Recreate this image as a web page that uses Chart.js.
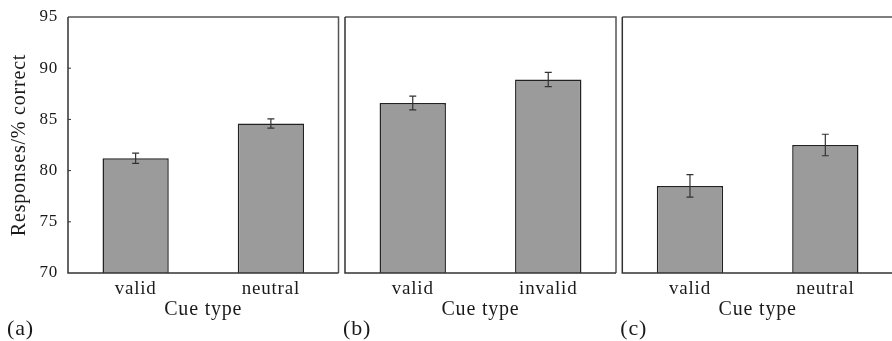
<!DOCTYPE html>
<html>
<head>
<meta charset="utf-8">
<script src="https://cdn.jsdelivr.net/npm/chart.js@4/dist/chart.umd.min.js"></script>
<style>
  html, body { margin: 0; padding: 0; background: #fff; overflow: hidden; }
  body { width: 892px; height: 341px; position: relative; }
  canvas { position: absolute; top: 0; }
</style>
</head>
<body>
<canvas id="panelA" width="340" height="341" style="left:0px"></canvas>
<canvas id="panelB" width="277" height="341" style="left:340px"></canvas>
<canvas id="panelC" width="282" height="341" style="left:617px"></canvas>
<script>
// data
const categoriesA = ['valid', 'neutral'];
const valuesA = [81.2, 84.6];
const errorsA = [0.5, 0.45];

const categoriesB = ['valid', 'invalid'];
const valuesB = [86.6, 88.9];
const errorsB = [0.67, 0.7];

const categoriesC = ['valid', 'neutral'];
const valuesC = [78.5, 82.5];
const errorsC = [1.1, 1.05];

const yMin = 70;
const yMax = 95;
const yStep = 5;

const serif = 'Liberation Serif';
const textColor = '#1a1a1a';
const spacing = '0.8px';

// slightly tracked type like the printed figure
const tracking = {
  id: 'tracking',
  beforeUpdate(chart) { chart.ctx.letterSpacing = spacing; },
  beforeDraw(chart) { chart.ctx.letterSpacing = spacing; }
};

// frame round the plot area, inward ticks on the left axis when asked
const frame = {
  id: 'frame',
  afterDraw(chart, args, opts) {
    const { ctx, chartArea: a } = chart;
    ctx.save();
    ctx.lineWidth = 1.5;
    ctx.strokeStyle = '#555';
    ctx.beginPath();
    ctx.moveTo(a.left, a.top);
    ctx.lineTo(a.right, a.top);
    ctx.lineTo(a.right, a.bottom);
    ctx.stroke();
    ctx.strokeStyle = '#333';
    ctx.beginPath();
    ctx.moveTo(a.left, a.top);
    ctx.lineTo(a.left, a.bottom);
    ctx.lineTo(a.right, a.bottom);
    ctx.stroke();
    if (opts.ticks) {
      const y = chart.scales.y;
      ctx.lineWidth = 1;
      y.ticks.forEach(t => {
        if (t.value <= yMin || t.value >= yMax) return;
        const py = y.getPixelForValue(t.value);
        ctx.beginPath();
        ctx.moveTo(a.left, py);
        ctx.lineTo(a.left + 3, py);
        ctx.stroke();
      });
    }
    // panel letter
    ctx.fillStyle = textColor;
    ctx.font = '22px "' + serif + '"';
    ctx.textBaseline = 'middle';
    ctx.textAlign = 'left';
    ctx.letterSpacing = spacing;
    const lx = opts.labelX != null ? opts.labelX : a.left - 2;
    ctx.fillText(opts.label, lx, 329);
    ctx.restore();
  }
};

// error bars on top of each bar
const errorBars = {
  id: 'errorBars',
  afterDatasetsDraw(chart, args, opts) {
    const { ctx } = chart;
    const y = chart.scales.y;
    const ds = chart.data.datasets[0];
    const meta = chart.getDatasetMeta(0);
    ctx.save();
    ctx.strokeStyle = '#333';
    ctx.lineWidth = 1.2;
    meta.data.forEach((bar, i) => {
      const v = ds.data[i];
      const e = opts.errors[i];
      const top = y.getPixelForValue(v + e);
      const bot = y.getPixelForValue(v - e);
      ctx.beginPath();
      ctx.moveTo(bar.x, top);
      ctx.lineTo(bar.x, bot);
      ctx.moveTo(bar.x - 3.5, top);
      ctx.lineTo(bar.x + 3.5, top);
      ctx.moveTo(bar.x - 3.5, bot);
      ctx.lineTo(bar.x + 3.5, bot);
      ctx.stroke();
    });
    ctx.restore();
  }
};

function makePanel(id, categories, values, errors, label, opts) {
  const showY = opts.showY;
  return new Chart(document.getElementById(id), {
    type: 'bar',
    data: {
      labels: categories,
      datasets: [{
        data: values,
        base: yMin,
        backgroundColor: '#9b9b9b',
        borderColor: '#222',
        borderWidth: 1.5,
        barPercentage: 0.49,
        categoryPercentage: 1
      }]
    },
    options: {
      responsive: false,
      animation: false,
      devicePixelRatio: 1,
      layout: { padding: { left: opts.padLeft, right: opts.padRight, top: 17, bottom: 0 } },
      plugins: {
        legend: { display: false },
        tooltip: { enabled: false },
        frame: { ticks: showY, label: label, labelX: opts.labelX },
        errorBars: { errors: errors }
      },
      scales: {
        x: {
          grid: { display: false, drawTicks: false },
          border: { display: false },
          ticks: { color: textColor, padding: 5, font: { family: serif, size: 19 } },
          title: {
            display: true,
            text: 'Cue type',
            color: textColor,
            font: { family: serif, size: 20 },
            padding: { top: 0, bottom: 19 }
          },
          afterFit(scale) {
            scale.height = 68;
            scale.paddingLeft = 0;
            scale.paddingRight = 0;
          }
        },
        y: {
          display: showY,
          min: yMin,
          max: yMax,
          grid: { display: false, drawTicks: false },
          border: { display: false },
          ticks: { stepSize: yStep, color: textColor, padding: 10, font: { family: serif, size: 17 } },
          title: {
            display: true,
            text: 'Responses/% correct',
            color: textColor,
            font: { family: serif, size: 20 },
            padding: { top: 8, bottom: 0 }
          },
          afterFit(scale) {
            if (showY) scale.width = 68;
            scale.paddingTop = 0;
            scale.paddingBottom = 0;
          }
        }
      }
    },
    plugins: [tracking, frame, errorBars]
  });
}

makePanel('panelA', categoriesA, valuesA, errorsA, '(a)', { showY: true, padLeft: 0, padRight: 1.5, labelX: 7 });
makePanel('panelB', categoriesB, valuesB, errorsB, '(b)', { showY: false, padLeft: 5, padRight: 1 });
makePanel('panelC', categoriesC, valuesC, errorsC, '(c)', { showY: false, padLeft: 5.3, padRight: 6 });
</script>
</body>
</html>
